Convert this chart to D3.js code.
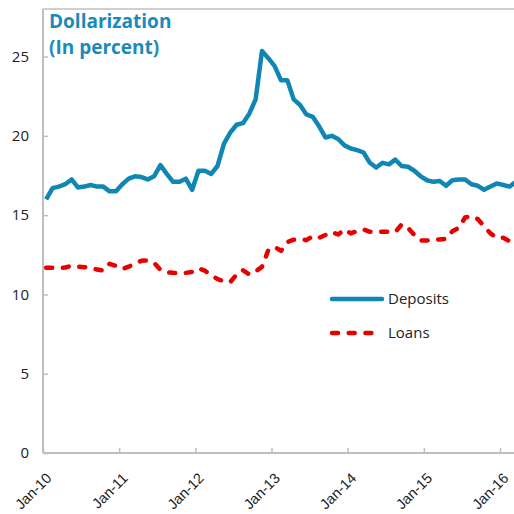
<!DOCTYPE html>
<html>
<head>
<meta charset="utf-8">
<script src="https://cdn.jsdelivr.net/npm/d3@7"></script>
<style>
  html, body { margin: 0; padding: 0; background: #fff; }
  svg { display: block; font-family: "Open Sans", "Noto Sans", sans-serif; }
</style>
</head>
<body>
<svg id="chart" width="514" height="514"></svg>
<script>
// monthly observations, Jan-10 onward
const deposits = [
  16.0, 16.7, 16.8, 16.95, 17.25, 16.75, 16.8, 16.9, 16.8, 16.8, 16.5, 16.5,
  16.95, 17.3, 17.45, 17.4, 17.25, 17.45, 18.15, 17.6, 17.1, 17.1, 17.3, 16.6,
  17.8, 17.8, 17.6, 18.1, 19.5, 20.2, 20.7, 20.8, 21.4, 22.3, 25.35, 24.9,
  24.4, 23.5, 23.5, 22.3, 21.95, 21.35, 21.2, 20.6, 19.9, 20.0, 19.8, 19.4,
  19.2, 19.1, 18.95, 18.3, 18.0, 18.3, 18.2, 18.5, 18.1, 18.05, 17.8, 17.45,
  17.2, 17.1, 17.15, 16.85, 17.2, 17.25, 17.25, 16.95, 16.85, 16.6, 16.8, 17.0,
  16.9, 16.8, 17.1
];
const loans = [
  11.68, 11.68, 11.65, 11.7, 11.8, 11.75, 11.72, 11.7, 11.57, 11.5, 11.93, 11.8,
  11.6, 11.75, 11.95, 12.12, 12.14, 12.0, 11.55, 11.4, 11.36, 11.33, 11.36, 11.42,
  11.65, 11.5, 11.2, 10.97, 10.83, 10.77, 11.26, 11.53, 11.26, 11.45, 11.74, 12.8,
  13.0, 12.75, 13.3, 13.45, 13.5, 13.42, 13.67, 13.57, 13.75, 13.93, 13.78, 14.1,
  13.85, 14.0, 14.1, 13.95, 13.95, 13.95, 13.95, 13.93, 14.41, 14.2, 13.75, 13.4,
  13.4, 13.47, 13.47, 13.5, 13.99, 14.2, 14.85, 14.94, 14.75, 14.3, 13.85, 13.57,
  13.57, 13.36
];
const xTickLabels = ['Jan-10', 'Jan-11', 'Jan-12', 'Jan-13', 'Jan-14', 'Jan-15', 'Jan-16'];
const yTicks = [0, 5, 10, 15, 20, 25];
const seriesNames = ['Deposits', 'Loans'];
const titleLines = ['Dollarization', '(In percent)'];

(function() {
  let svg = d3.select('#chart');
  let left = 43, top = 9, right = 514, bottom = 453;
  let monthW = 6.347;

  const blue = '#1087b3', red = '#e60000', axisGrey = '#bfbfbf';
  const loanDash = '6,10.7';

  // month index -> x; category boundaries at i - 0.5
  let xScale = d3.scaleLinear()
    .domain([-0.5, 74.5])
    .range([left, left + 75 * monthW]);
  let yScale = d3.scaleLinear()
    .domain([0, 28])
    .range([bottom, top]);

  // top frame line
  svg.append('line')
    .attr('x1', left).attr('x2', right)
    .attr('y1', top).attr('y2', top)
    .attr('stroke', axisGrey).attr('stroke-width', 1.5);

  // y axis
  let yAxis = svg.append('g')
    .attr('transform', `translate(${left},0)`)
    .call(d3.axisLeft(yScale).tickValues(yTicks).tickSize(-5).tickPadding(14));
  yAxis.select('.domain').remove();
  yAxis.selectAll('.tick line').attr('stroke', axisGrey).attr('stroke-width', 1.5);
  yAxis.selectAll('.tick text').attr('font-size', '15px').attr('fill', '#222')
    .attr('font-family', '"Open Sans", sans-serif');
  svg.append('line')
    .attr('x1', left).attr('x2', left)
    .attr('y1', top).attr('y2', bottom)
    .attr('stroke', axisGrey).attr('stroke-width', 2);

  // x axis
  let xTickVals = xTickLabels.map((d, i) => i * 12 - 0.5);
  let xAxis = svg.append('g')
    .attr('transform', `translate(0,${bottom})`)
    .call(d3.axisBottom(xScale).tickValues(xTickVals).tickSize(-5)
      .tickFormat((d, i) => xTickLabels[i]));
  xAxis.select('.domain').remove();
  xAxis.selectAll('.tick line').attr('stroke', axisGrey).attr('stroke-width', 1.5);
  xAxis.selectAll('.tick text')
    .attr('font-size', '14.5px')
    .attr('fill', '#222')
    .attr('text-anchor', 'end')
    .attr('dy', null)
    .attr('y', null)
    .attr('transform', 'translate(9,26) rotate(-45)');
  svg.append('line')
    .attr('x1', left).attr('x2', right)
    .attr('y1', bottom).attr('y2', bottom)
    .attr('stroke', axisGrey).attr('stroke-width', 2);

  let line = d3.line()
    .x((d, i) => xScale(i))
    .y((d) => yScale(d));

  svg.append('path')
    .datum(deposits)
    .attr('fill', 'none')
    .attr('stroke', blue)
    .attr('stroke-width', 4.5)
    .attr('stroke-linejoin', 'round')
    .attr('d', line);

  svg.append('path')
    .datum(loans)
    .attr('fill', 'none')
    .attr('stroke', red)
    .attr('stroke-width', 4.5)
    .attr('stroke-linecap', 'round')
    .attr('stroke-linejoin', 'round')
    .attr('stroke-dasharray', loanDash)
    .attr('d', line);

  // legend
  let legend = svg.append('g');
  let legendRows = [
    { name: seriesNames[0], color: blue, dash: null, y: 299 },
    { name: seriesNames[1], color: red, dash: loanDash, y: 333 }
  ];
  legendRows.forEach((r) => {
    legend.append('line')
      .attr('x1', 332).attr('x2', 382)
      .attr('y1', r.y).attr('y2', r.y)
      .attr('stroke', r.color)
      .attr('stroke-width', 4.5)
      .attr('stroke-linecap', 'round')
      .attr('stroke-dasharray', r.dash);
    legend.append('text')
      .attr('x', 388).attr('y', r.y)
      .attr('dy', '0.35em')
      .attr('font-size', '15px')
      .attr('fill', '#222')
      .text(r.name);
  });

  // title
  svg.append('g').selectAll('text')
    .data(titleLines)
    .join('text')
      .attr('x', 49)
      .attr('y', (d, i) => 28 + i * 26)
      .attr('font-size', '19px')
      .attr('font-weight', 'bold')
      .attr('fill', '#1a8abb')
      .text((d) => d);
})();
</script>
</body>
</html>
